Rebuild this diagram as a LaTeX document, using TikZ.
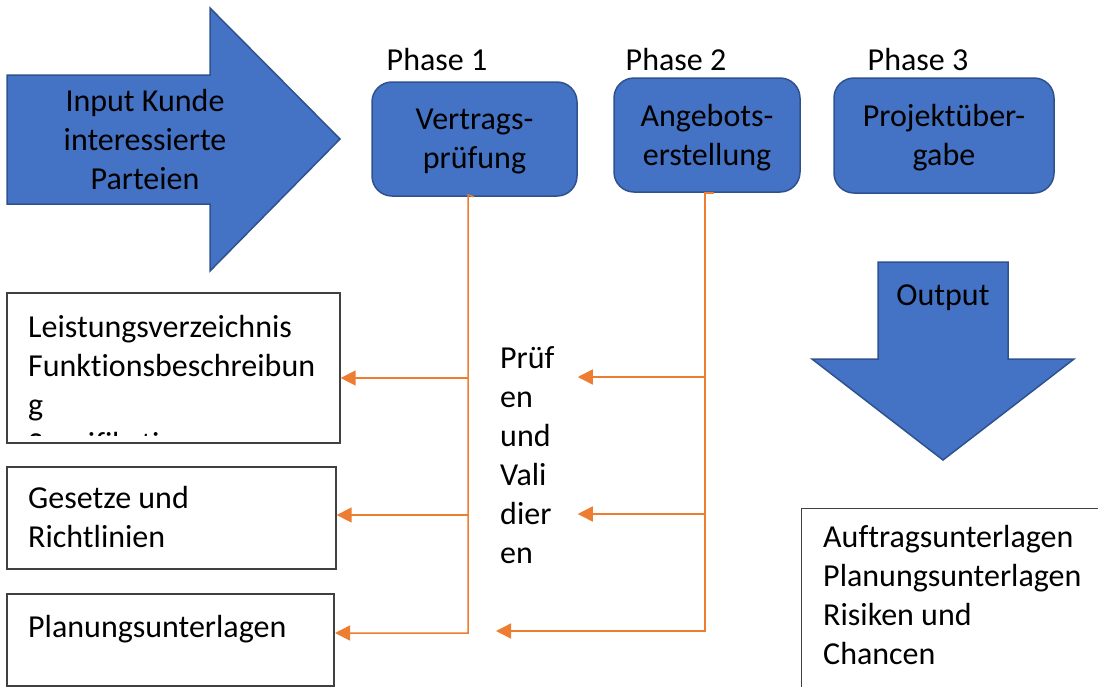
\documentclass[tikz,border=0pt]{standalone}
\usepackage{fontspec}
\setmainfont{Carlito}[Ligatures={NoCommon}]
\usetikzlibrary{arrows.meta}
\definecolor{fillblue}{HTML}{4472C4}
\definecolor{edgeblue}{HTML}{2F528F}
\definecolor{connc}{HTML}{ED7D31}
\definecolor{boxedge}{HTML}{404040}
\begin{document}
\begin{tikzpicture}[x=1pt,y=-1pt,
  txt/.style={font=\fontsize{32}{39}\selectfont, inner sep=0pt, text=black},
  phasebox/.style={draw=edgeblue, fill=fillblue, line width=1.5pt, rounded corners=20pt, inner sep=0pt, align=center, font=\fontsize{32}{39}\selectfont},
  bigarrow/.style={draw=edgeblue, fill=fillblue, line width=1.5pt, line join=miter},
  plainbox/.style={draw=boxedge, line width=1.3pt, inner sep=0pt},
  conn/.style={draw=connc, line width=1.5pt},
  tip/.style={-{Triangle[length=15pt,width=15pt]}}]
\useasboundingbox (0,0) rectangle (1098,686);
\clip (0,0) rectangle (1098,686);
\fill[white] (0,0) rectangle (1098,686);

% input arrow
\path[bigarrow] (7,75) -- (210,75) -- (210,8) -- (340,139) -- (210,271) -- (210,204) -- (7,204) -- cycle;
\node[txt, align=center] (input) at (145,143) {\strut Input Kunde\\\strut interessierte\\\strut Parteien};

% phase labels
\node[txt] (ph1) at (437,63) {\strut Phase 1};
\node[txt] (ph2) at (676,63) {\strut Phase 2};
\node[txt] (ph3) at (918,63) {\strut Phase 3};

% phase boxes
\node[phasebox, minimum width=205pt, minimum height=114pt] (phase1) at (474.5,139) {};
\node[txt, align=center] (phase1text) at (474.5,141) {\strut Vertrags-\\\strut prüfung};
\node[phasebox, minimum width=186pt, minimum height=114pt] (phase2) at (707,135) {};
\node[txt, align=center] (phase2text) at (707,138) {\strut Angebots-\\\strut erstellung};
\node[phasebox, minimum width=220pt, minimum height=115pt] (phase3) at (944,135.5) {};
\node[txt, align=center] (phase3text) at (944,138) {\strut Projektüber-\\\strut gabe};

% output arrow
\path[bigarrow] (878,262) -- (1008,262) -- (1008,359) -- (1074,359) -- (943,460) -- (812,359) -- (878,359) -- cycle;
\node[txt] (output) at (943,298) {\strut Output};

% left boxes
\node[plainbox, minimum width=333pt, minimum height=150pt] (boxA) at (173.5,368) {};
\begin{scope}
  \clip (7,293) rectangle (340,435);
  \node[txt, align=left, anchor=west] (boxAtext) at (28,388) {\strut Leistungsverzeichnis\\\strut Funktionsbeschreibun\\\strut g\\\strut Spezifikation};
\end{scope}
\node[plainbox, minimum width=329pt, minimum height=102pt] (boxB) at (171.5,518) {};
\node[txt, align=left, anchor=west] (boxBtext) at (28,520.5) {\strut Gesetze und\\\strut Richtlinien};
\node[plainbox, minimum width=327pt, minimum height=92pt] (boxC) at (170.5,640) {};
\node[txt, anchor=west] (boxCtext) at (28,630) {\strut Planungsunterlagen};

% output box
\node[plainbox, anchor=north west, minimum width=320pt, minimum height=200pt] (outbox) at (801,508) {};
\node[txt, align=left, anchor=west] (outtext) at (823,598) {\strut Auftragsunterlagen\\\strut Planungsunterlagen\\\strut Risiken und\\\strut Chancen};

% middle text
\node[txt, align=left, anchor=west] (pruef) at (500,458.5) {\strut Prüf\\\strut en\\\strut und\\\strut Vali\\\strut dier\\\strut en};

% connector coordinates
\coordinate (j1) at (468,195);
\coordinate (k1) at (468,633);
\coordinate (r1) at (468,378);
\coordinate (r2) at (468,515);
\coordinate (s1) at (714,193);
\coordinate (j2) at (705,193);
\coordinate (k2) at (705,631);
\coordinate (r3) at (705,377);
\coordinate (r4) at (705,514);
\coordinate (tC) at (335,633);
\coordinate (t3) at (496,631);

\draw[conn, tip] (phase1.south -| 474,195) -- (j1) -- (k1) -- (tC);
\draw[conn, tip] (r1) -- (r1 -| boxA.east);
\draw[conn, tip] (r2) -- (r2 -| boxB.east);
\draw[conn, tip] (s1) -- (j2) -- (k2) -- (t3);
\draw[conn, tip] (r3) -- (r3 -| phase1.east);
\draw[conn, tip] (r4) -- (r4 -| phase1.east);
\end{tikzpicture}
\end{document}
